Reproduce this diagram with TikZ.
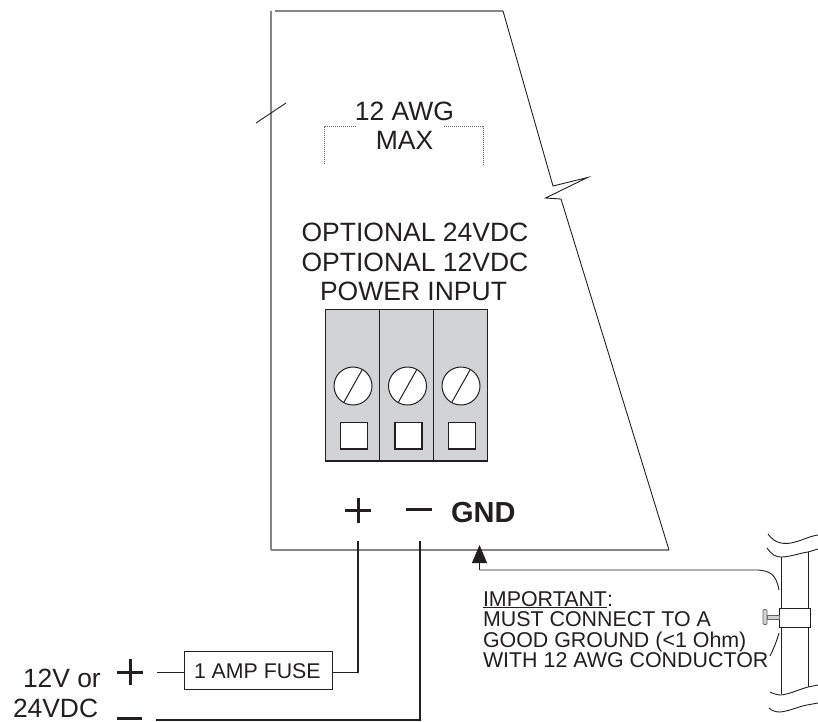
\documentclass[tikz,border=0pt]{standalone}
\usepackage{fontspec}
\setmainfont{Liberation Sans}
\usetikzlibrary{arrows.meta}
\definecolor{ink}{HTML}{231F20}
\definecolor{termgray}{HTML}{D1D3D4}
\newcommand{\fsz}[1]{\fontsize{#1}{#1}\selectfont}
\tikzset{
  x=1pt,y=-1pt,
  every node/.style={text=ink,inner sep=0pt,outer sep=0pt},
  lbl/.style={anchor=base,font=\fsz{26.5}},
  note/.style={anchor=base west,font=\fsz{21.4}},
  sign/.style={line width=3pt,draw=ink},
  housing/.style={line width=2pt,draw=ink!55},
  thin line/.style={line width=.9pt,draw=ink},
  wire/.style={line width=1.4pt,draw=ink},
  dots/.style={line width=.8pt,draw=ink!70,dash pattern=on 1pt off 1pt},
  cell/.style={line width=1.1pt,draw=ink,fill=termgray},
  hole/.style={line width=1.1pt,draw=ink,fill=white},
  screw/.style={draw=ink,fill=white,line width=1pt,circle,minimum size=38pt},
  fusebox/.style={draw=ink,fill=white,line width=.9pt,minimum width=148pt,minimum height=38pt},
}
\begin{document}
\begin{tikzpicture}
\useasboundingbox (0,0) rectangle (818,721);
% housing
\draw[housing] (271,11) -- (271,550);
\draw[housing] (275,10.5) -- (503,10.5);
\draw[housing,line width=1.2pt] (271,550) -- (669,550);
\draw[thin line] (503,11) -- (553,186) -- (587.5,177.5) -- (545.5,198) -- (561,199) -- (669,550);
\draw[thin line] (256,123) -- (286,103);
% 12 AWG bracket
\draw[dots] (324,163.5) -- (324,126.5) -- (357,126.5);
\draw[dots] (444,126.5) -- (483,126.5) -- (483,164);
\node[lbl] (awg) at (404.5,120.5) {12 AWG};
\node[lbl] (max) at (404.5,149) {MAX};
\node[lbl] (opt24) at (415,241.5) {OPTIONAL 24VDC};
\node[lbl] (opt12) at (415,271) {OPTIONAL 12VDC};
\node[lbl] (pwr) at (413.5,300.5) {POWER INPUT};
% terminal block
\draw[cell] (325.5,309.5) rectangle (379.5,461);
\draw[cell] (379.5,309.5) rectangle (433.5,461);
\draw[cell] (433.5,309.5) rectangle (487.5,461);
\foreach \n/\cx/\sx in {a/353/354,b/407.5/408.5,c/461/462}{
  \node[screw] (screw\n) at (\cx,386) {};
  \draw[line width=1pt,draw=ink] (\cx+9,370) -- (\cx-9,402);
  \draw[hole] (\sx-13.5,422.5) rectangle (\sx+13.5,449);
}
% signs on housing
\draw[sign] (345,510.5) -- (371,510.5) (358,498) -- (358,523);
\draw[sign] (406,509) -- (432,509);
\node[anchor=base west,font=\fsz{29}\bfseries] (gnd) at (451,522.5) {GND};
% fuse and supply
\node[fusebox] (fuse) at (258,670) {};
\node[anchor=base west,font=\fsz{21.3}] (fusetext) at (194,678) {1 AMP FUSE};
\draw[sign] (117,672.5) -- (143,672.5) (130,659) -- (130,685);
\draw[sign,line width=3.4pt] (117,718.5) -- (142,718.5);
\node[anchor=base west,font=\fsz{26.4}] (v12) at (23,687) {12V or};
\node[anchor=base west,font=\fsz{26.4}] (v24) at (13,717) {24VDC};
% wires
\coordinate (pluswire) at (358,541);
\coordinate (minuswire) at (420,541);
\coordinate (pluscorner) at (358,672.5);
\coordinate (minuscorner) at (420,720);
\coordinate (supplyplus) at (157,672.5);
\coordinate (supplyminus) at (156,720);
\draw[wire] (supplyplus) -- (supplyplus -| fuse.west);
\draw[wire] (pluscorner -| fuse.east) -- (pluscorner) -- (pluswire);
\draw[wire] (supplyminus) -- (minuscorner) -- (minuswire);
% ground wire
\coordinate (gtip) at (479.5,545);
\coordinate (gcorner) at (479.5,570);
\draw[thin line,-{Triangle[length=18pt,width=15pt,color=ink]}] (gcorner) -- (gtip);
\draw[thin line] (gcorner) -- (758,570) .. controls (770,571) and (776,574) .. (779,590);
% pipe
\draw[thin line] (781,557) -- (781,694);
\draw[thin line] (808,552) -- (808,687);
\draw[thin line] (768,534) .. controls (775,544) and (785,545) .. (795,542) .. controls (803,540) and (810,536) .. (818,535);
\draw[thin line] (767,548) .. controls (772,555) and (776,557) .. (781,557) .. controls (790,557) and (800,553) .. (808,552) -- (818,549);
\draw[thin line] (770,692) .. controls (774,694) and (778,695) .. (781,695) .. controls (790,694) and (800,689) .. (808,687) -- (818,685);
\draw[thin line] (769,708) .. controls (772,711) and (776,712) .. (780,712) .. controls (790,711) and (800,706) .. (807,705) -- (818,703);
% clamp
\draw[thin line,fill=white] (779,608) rectangle (810,627);
\draw[line width=.7pt,draw=ink!70,fill=termgray] (767,615) rectangle (779,619.5);
\draw[line width=.7pt,draw=ink!70,fill=termgray,rounded corners=1pt] (763,609.5) rectangle (767,624.5);
\draw[thin line] (779,633) .. controls (777,640) and (774,648) .. (770,656);
% note
\node[note] (n1) at (483,606) {\underline{IMPORTANT}:};
\node[note] (n2) at (483,626.5) {MUST CONNECT TO A};
\node[note] (n3) at (483,647) {GOOD GROUND (<1 Ohm)};
\node[note] (n4) at (483,667.5) {WITH 12 AWG CONDUCTOR};
\end{tikzpicture}
\end{document}
